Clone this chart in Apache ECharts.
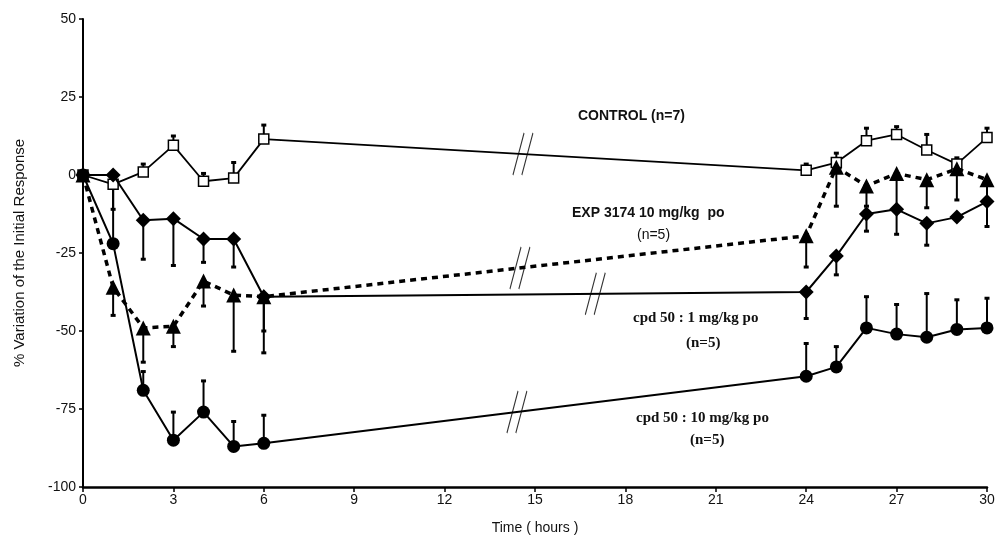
<!DOCTYPE html>
<html>
<head>
<meta charset="utf-8">
<title>Time course</title>
<script src="https://cdn.jsdelivr.net/npm/echarts@6/dist/echarts.min.js"></script>
<style>
  body { margin: 0; background: #fff; }
  #main { width: 1002px; height: 545px; }
</style>
</head>
<body>
<div id="main"></div>
<script type="text/javascript">
    // hours
    var times = [0, 1, 2, 3, 4, 5, 6, 24, 25, 26, 27, 28, 29, 30];

    // mean values and the end of each error bar
    var control    = [0, -3, 1, 9.5, -2, -1, 11.5, 1.5, 4, 11, 13, 8, 3.5, 12];
    var controlErr = [0, -3, 3.5, 12.5, 0.5, 4, 16, 3.5, 7, 15, 15.5, 13, 5.5, 15];
    var exp3174    = [0, -36, -49, -48.5, -34, -38.5, -39, -19.5, 2.5, -3.5, 0.5, -1.5, 2, -1.5];
    var exp3174Err = [0, -45, -60, -55, -42, -56.5, -57, -29.5, -10, -10, -12, -10.5, -8, -8];
    var cpd1       = [0, 0, -14.5, -14, -20.5, -20.5, -39, -37.5, -26, -12.5, -11, -15.5, -13.5, -8.5];
    var cpd1Err    = [0, -11, -27, -29, -28, -29.5, -50, -46, -32, -18, -19, -22.5, -13.5, -16.5];
    var cpd10      = [0, -22, -69, -85, -76, -87, -86, -64.5, -61.5, -49, -51, -52, -49.5, -49];
    var cpd10Err   = [0, -3, -63, -76, -66, -79, -77, -54, -55, -39, -41.5, -38, -40, -39.5];

    // where the "//" axis-break marks sit on each curve (hours)
    var breakAt = { control: 14.6, exp: 14.5, cpd1: 17.0, cpd10: 14.4 };

    var xTicks = [0, 3, 6, 9, 12, 15, 18, 21, 24, 27, 30];
    var yTicks = [-100, -75, -50, -25, 0, 25, 50];

    function pairs(vals) {
        var out = [];
        for (var i = 0; i < times.length; i++) out.push([times[i], vals[i]]);
        return out;
    }
    function bars(vals, errs) {
        var out = [];
        for (var i = 0; i < times.length; i++) {
            if (errs[i] !== vals[i]) out.push([times[i], vals[i], errs[i]]);
        }
        return out;
    }
    // position of a break mark on the segment between 6 h and 24 h
    function onGap(vals, t) {
        var a = vals[6], b = vals[7];
        return [t, a + (b - a) * (t - 6) / 18];
    }

    function errRender(params, api) {
        var p0 = api.coord([api.value(0), api.value(1)]);
        var p1 = api.coord([api.value(0), api.value(2)]);
        return {
            type: 'group',
            children: [
                { type: 'line', shape: { x1: p0[0], y1: p0[1], x2: p1[0], y2: p1[1] }, style: { stroke: '#000', lineWidth: 2 } },
                { type: 'line', shape: { x1: p1[0] - 2.5, y1: p1[1], x2: p1[0] + 2.5, y2: p1[1] }, style: { stroke: '#000', lineWidth: 3 } }
            ]
        };
    }

    function errSeries(vals, errs) {
        return {
            type: 'custom',
            renderItem: errRender,
            data: bars(vals, errs),
            encode: { x: 0, y: [1, 2] },
            z: 1,
            silent: true
        };
    }

    var breakSymbol = 'path://M0,40 L10,0 M8,40 L18,0';

    var chart = echarts.init(document.getElementById('main'));
    chart.setOption({
        animation: false,
        grid: { left: 83, right: 15, top: 19, bottom: 58 },
        xAxis: {
            type: 'value', min: 0, max: 30, interval: 3,
            name: 'Time ( hours )', nameLocation: 'middle', nameGap: 34,
            nameTextStyle: { fontFamily: 'Liberation Sans', fontSize: 14, color: '#111' },
            axisLine: { onZero: false, lineStyle: { color: '#000', width: 2.5 } },
            axisTick: { length: 5, lineStyle: { color: '#000', width: 1.5 } },
            axisLabel: { fontFamily: 'Liberation Sans', fontSize: 14, color: '#111', margin: 6,
                customValues: xTicks },
            splitLine: { show: false }
        },
        yAxis: {
            type: 'value', min: -100, max: 50, interval: 25,
            name: '% Variation of the Initial Response', nameLocation: 'middle', nameGap: 56,
            nameTextStyle: { fontFamily: 'Liberation Sans', fontSize: 15, color: '#111' },
            axisLine: { show: true, onZero: false, lineStyle: { color: '#000', width: 2 } },
            axisTick: { show: true, length: 4, lineStyle: { color: '#000', width: 1.5 } },
            axisLabel: { fontFamily: 'Liberation Sans', fontSize: 14, color: '#111', margin: 7,
                customValues: yTicks },
            splitLine: { show: false }
        },
        series: [
            errSeries(control, controlErr),
            errSeries(exp3174, exp3174Err),
            errSeries(cpd1, cpd1Err),
            errSeries(cpd10, cpd10Err),
            {
                name: 'CONTROL (n=7)', type: 'line', data: pairs(control),
                symbol: 'rect', symbolSize: 10,
                lineStyle: { color: '#000', width: 1.8 },
                itemStyle: { color: '#fff', borderColor: '#000', borderWidth: 1.5 }, z: 2
            },
            {
                name: 'EXP 3174 10 mg/kg po', type: 'line', data: pairs(exp3174),
                symbol: 'triangle', symbolSize: 15,
                lineStyle: { color: '#000', width: 3.5, type: [6, 5] },
                itemStyle: { color: '#000' }, z: 3
            },
            {
                name: 'cpd 50 : 1 mg/kg po', type: 'line', data: pairs(cpd1),
                symbol: 'diamond', symbolSize: 15,
                lineStyle: { color: '#000', width: 2 },
                itemStyle: { color: '#000' }, z: 3
            },
            {
                name: 'cpd 50 : 10 mg/kg po', type: 'line', data: pairs(cpd10),
                symbol: 'circle', symbolSize: 13,
                lineStyle: { color: '#000', width: 2 },
                itemStyle: { color: '#000' }, z: 3
            },
            {
                type: 'scatter', silent: true, z: 5,
                data: [onGap(control, breakAt.control), onGap(exp3174, breakAt.exp),
                       onGap(cpd1, breakAt.cpd1), onGap(cpd10, breakAt.cpd10)],
                symbol: breakSymbol, symbolSize: [20, 42],
                itemStyle: { color: 'none', borderColor: '#000', borderWidth: 1.5 }
            }
        ],
        graphic: [
            { type: 'text', left: 578, top: 109, style: { text: 'CONTROL (n=7)', font: 'bold 14px "Liberation Sans"', fill: '#111' } },
            { type: 'text', left: 572, top: 206, style: { text: 'EXP 3174 10 mg/kg  po', font: 'bold 14px "Liberation Sans"', fill: '#111' } },
            { type: 'text', left: 637, top: 228, style: { text: '(n=5)', font: '14px "Liberation Sans"', fill: '#111' } },
            { type: 'text', left: 633, top: 311, style: { text: 'cpd 50 : 1 mg/kg po', font: 'bold 15px "Liberation Serif"', fill: '#111' } },
            { type: 'text', left: 686, top: 336, style: { text: '(n=5)', font: 'bold 15px "Liberation Serif"', fill: '#111' } },
            { type: 'text', left: 636, top: 411, style: { text: 'cpd 50 : 10 mg/kg po', font: 'bold 15px "Liberation Serif"', fill: '#111' } },
            { type: 'text', left: 690, top: 433, style: { text: '(n=5)', font: 'bold 15px "Liberation Serif"', fill: '#111' } }
        ]
    });
</script>
</body>
</html>
